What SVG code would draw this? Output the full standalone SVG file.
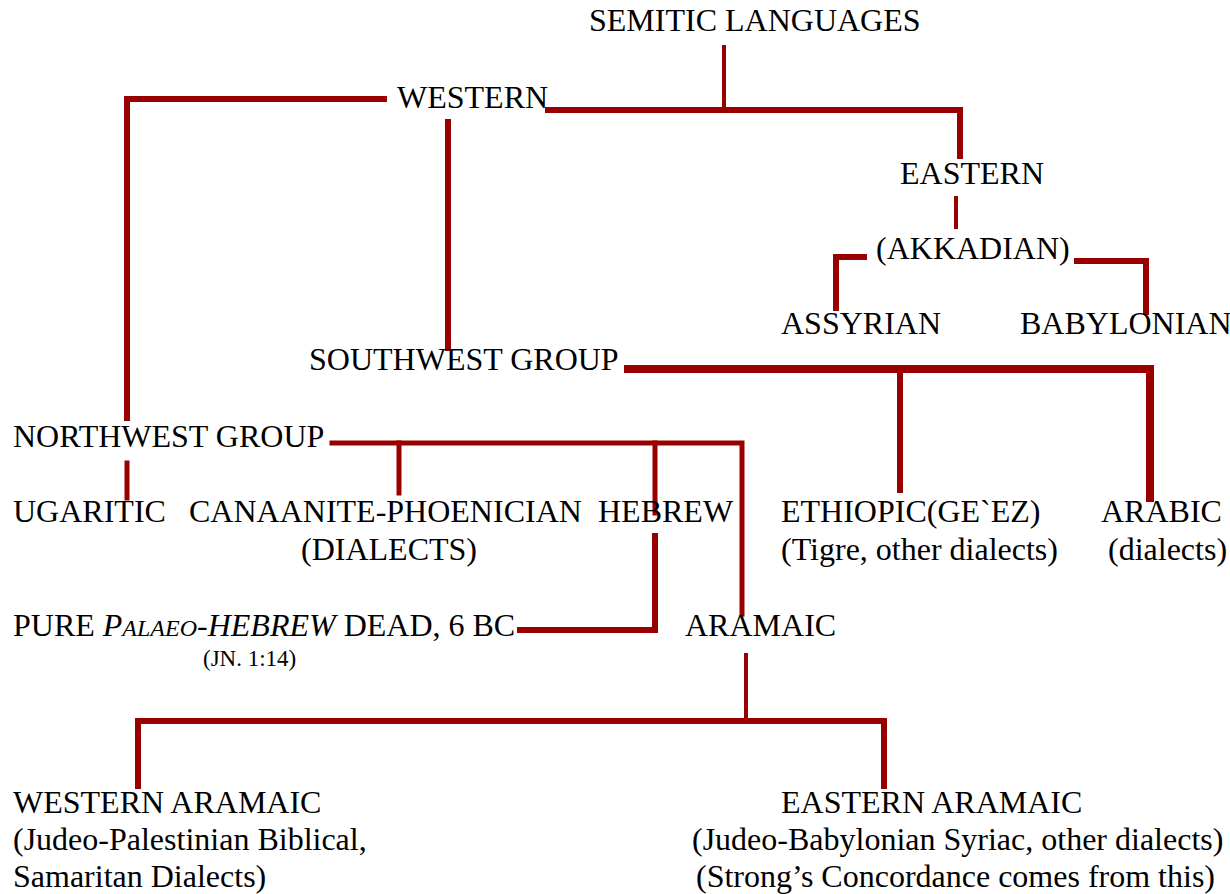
<svg xmlns="http://www.w3.org/2000/svg" width="1230" height="894" viewBox="0 0 1230 894">
<style>
text{font-family:"Liberation Serif","Times New Roman",serif;font-size:32px;fill:#000}
.sm{font-size:23px}
.c{fill:none;stroke:#990000;stroke-linecap:square;stroke-linejoin:miter}
.t3{stroke-width:4}
.t5{stroke-width:5}
.t6{stroke-width:6}
.t8{stroke-width:8}
</style>
<rect width="1230" height="894" fill="#fff"/>
<g id="connectors">
<path class="c t3" d="M724 47V106"/>
<path class="c t6" d="M384 99H127V418"/>
<path class="c t6" d="M548 110H960V156"/>
<path class="c t6" d="M448 122V348"/>
<path class="c t3" d="M956 198V227"/>
<path class="c t6" d="M864 257H836V308"/>
<path class="c t6" d="M1077 261H1146V312"/>
<path class="c t8" d="M628 369H1150V498"/>
<path class="c t6" d="M900 369V490"/>
<path class="c t5" d="M332 443H742V614"/>
<path class="c t5" d="M399 443V493"/>
<path class="c t5" d="M655 443V513"/>
<path class="c t5" d="M127 463V498"/>
<path class="c t6" d="M655 536V630H520"/>
<path class="c t3" d="M746 655V716"/>
<path class="c t6" d="M138 786V721H884V786"/>
</g>
<g id="semitic"><text x="589" y="31">SEMITIC LANGUAGES</text></g>
<g id="western"><text x="397" y="108">WESTERN</text></g>
<g id="eastern"><text x="900" y="184">EASTERN</text></g>
<g id="akkadian"><text x="876" y="259">(AKKADIAN)</text></g>
<g id="assyrian"><text x="781" y="334">ASSYRIAN</text></g>
<g id="babylonian"><text x="1020" y="334">BABYLONIAN</text></g>
<g id="southwest"><text x="309" y="370">SOUTHWEST GROUP</text></g>
<g id="northwest"><text x="13" y="447">NORTHWEST GROUP</text></g>
<g id="ugaritic"><text x="13" y="522">UGARITIC</text></g>
<g id="canaanite"><text x="189" y="522">CANAANITE-PHOENICIAN</text><text x="301" y="560">(DIALECTS)</text></g>
<g id="hebrew"><text x="598" y="522">HEBREW</text></g>
<g id="ethiopic"><text x="781" y="522">ETHIOPIC(GE`EZ)</text><text x="781" y="560">(Tigre, other dialects)</text></g>
<g id="arabic"><text x="1101" y="522">ARABIC</text><text x="1108" y="560">(dialects)</text></g>
<g id="palaeo"><text x="13" y="636">PURE <tspan font-style="italic">P<tspan font-size="24">ALAEO</tspan>-HEBREW</tspan> DEAD, 6 BC</text><text class="sm" x="203" y="666">(JN. 1:14)</text></g>
<g id="aramaic"><text x="685" y="636">ARAMAIC</text></g>
<g id="western-aramaic"><text x="13" y="813">WESTERN ARAMAIC</text><text x="13" y="850">(Judeo-Palestinian Biblical,</text><text x="13" y="887">Samaritan Dialects)</text></g>
<g id="eastern-aramaic"><text x="781" y="813">EASTERN ARAMAIC</text><text x="692" y="850">(Judeo-Babylonian Syriac, other dialects)</text><text x="696" y="887">(Strong’s Concordance comes from this)</text></g>
</svg>
